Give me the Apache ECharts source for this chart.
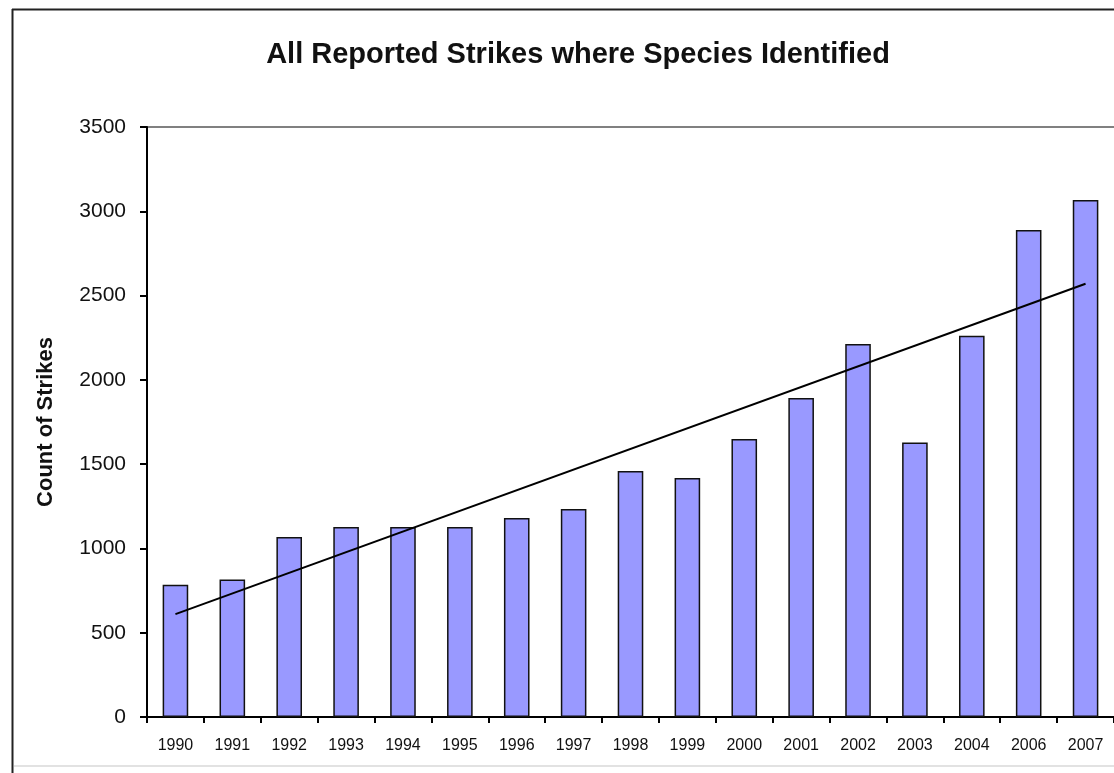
<!DOCTYPE html>
<html>
<head>
<meta charset="utf-8">
<script src="https://cdn.jsdelivr.net/npm/echarts@6/dist/echarts.min.js"></script>
<style>
  html, body { margin: 0; padding: 0; background: #ffffff; }
  #chart { width: 1114px; height: 773px; }
</style>
</head>
<body>
<div id="chart"></div>
<script>
// Reported bird strikes with species identified, per year (2005 not reported)
const years = ['1990', '1991', '1992', '1993', '1994', '1995', '1996', '1997', '1998',
               '1999', '2000', '2001', '2002', '2003', '2004', '2006', '2007'];
const strikes = [785, 815, 1068, 1127, 1127, 1127, 1180, 1234, 1459,
                 1418, 1649, 1892, 2213, 1629, 2261, 2889, 3067];
// Linear trend line end points (first and last year)
const trendYears = ['1990', '2007'];
const trendValues = [610, 2570];
const yTicks = [0, 500, 1000, 1500, 2000, 2500, 3000, 3500];

const FONT = '"Liberation Sans", Arial, sans-serif';
const chart = echarts.init(document.getElementById('chart'), null, { renderer: 'canvas' });

chart.setOption({
  backgroundColor: '#ffffff',
  animation: false,
  title: {
    text: 'All Reported Strikes where Species Identified',
    left: 573,
    top: 35,
    textAlign: 'center',
    textStyle: { fontFamily: FONT, fontSize: 29, fontWeight: 'bold', color: '#111111' }
  },
  graphic: [
    // outer chart frame
    { type: 'line', shape: { x1: 12.5, y1: 9, x2: 12.5, y2: 773 }, style: { stroke: '#222', lineWidth: 2 } },
    { type: 'line', shape: { x1: 12, y1: 9.5, x2: 1114, y2: 9.5 }, style: { stroke: '#222', lineWidth: 2 } },
    { type: 'line', shape: { x1: 14, y1: 766, x2: 1114, y2: 766 }, style: { stroke: '#e2e2e2', lineWidth: 2 } },
    // plot area top edge
    { type: 'line', shape: { x1: 147, y1: 127, x2: 1114, y2: 127 }, style: { stroke: '#808080', lineWidth: 2 } }
  ],
  grid: { left: 147, top: 127, right: -4, bottom: 56, containLabel: false },
  xAxis: {
    type: 'category',
    data: years,
    boundaryGap: true,
    axisLine: { show: true, lineStyle: { color: '#000', width: 2 } },
    axisTick: { show: true, alignWithLabel: false, length: 6, lineStyle: { color: '#000', width: 2 } },
    axisLabel: { fontFamily: FONT, fontSize: 16, color: '#111', margin: 21 },
    splitLine: { show: false }
  },
  yAxis: {
    type: 'value',
    min: 0,
    max: 3500,
    interval: 500,
    name: 'Count of Strikes',
    nameLocation: 'middle',
    nameGap: 90,
    nameRotate: 90,
    nameTextStyle: { fontFamily: FONT, fontSize: 22, fontWeight: 'bold', color: '#111' },
    axisLine: { show: true, lineStyle: { color: '#000', width: 2 } },
    axisTick: { show: true, length: 7, lineStyle: { color: '#000', width: 2 } },
    axisLabel: {
      fontFamily: FONT, fontSize: 21, color: '#111', margin: 21,
      formatter: v => (yTicks.indexOf(v) >= 0 ? String(v) : '')
    },
    splitLine: { show: false }
  },
  series: [
    {
      type: 'bar',
      data: strikes,
      barWidth: '45%',
      itemStyle: { color: '#9999ff', borderColor: '#111111', borderWidth: 1.5 },
      z: 2
    },
    {
      type: 'line',
      data: trendYears.map((y, i) => [y, trendValues[i]]),
      symbol: 'none',
      lineStyle: { color: '#000000', width: 2 },
      z: 3
    }
  ]
});
</script>
</body>
</html>
